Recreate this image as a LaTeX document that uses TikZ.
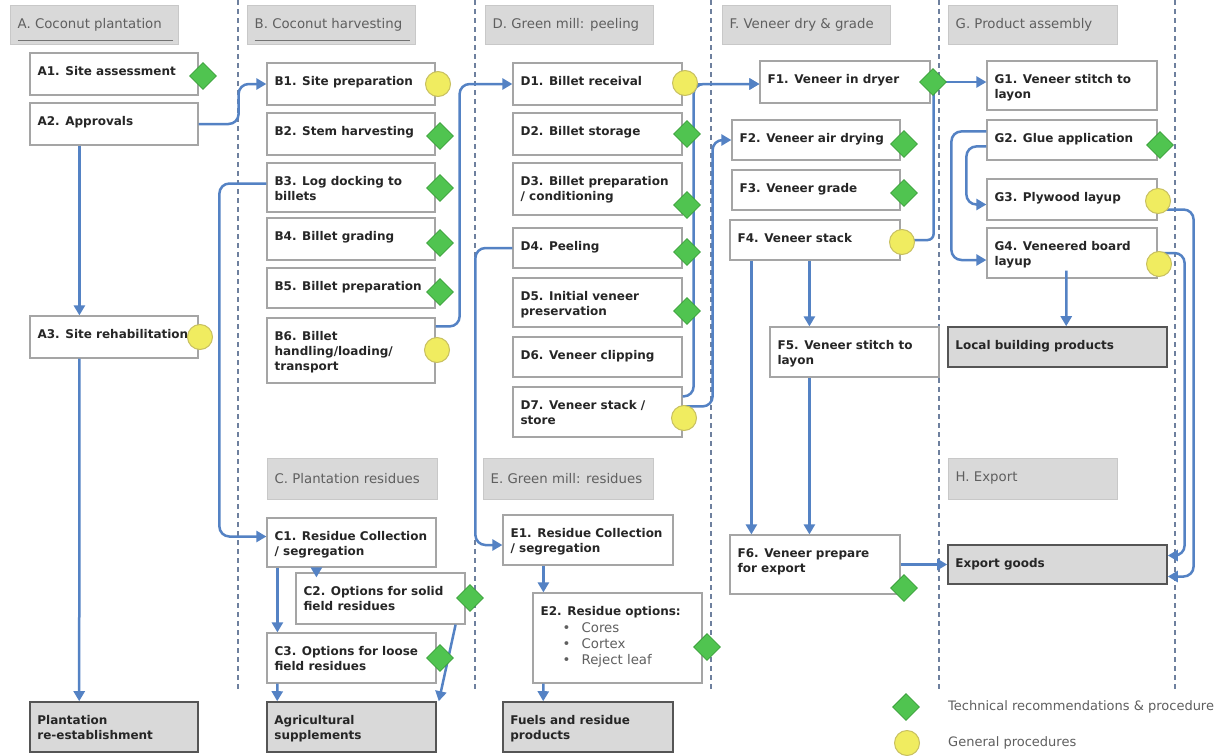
\documentclass[tikz,border=0pt]{standalone}
\usepackage{fontspec}
\setmainfont{DejaVu Sans}
\usetikzlibrary{arrows.meta,shapes.geometric}
\definecolor{lineblue}{RGB}{84,130,196}
\definecolor{laneblue}{RGB}{110,128,158}
\definecolor{boxgray}{RGB}{165,165,165}
\definecolor{fillgray}{RGB}{217,217,217}
\definecolor{hdrborder}{RGB}{200,200,200}
\definecolor{outgray}{RGB}{85,85,85}
\definecolor{txtdark}{RGB}{38,38,38}
\definecolor{hdrtxt}{RGB}{95,95,95}
\definecolor{greenfill}{RGB}{80,196,80}
\definecolor{greenline}{RGB}{58,160,58}
\definecolor{yellowfill}{RGB}{240,236,96}
\definecolor{yellowline}{RGB}{200,192,96}
\newcommand\pbx[7]{%
  \node[#2, minimum width={#5pt-#3pt}, minimum height={#6pt-#4pt}] (#1) at ({(#3+#5)/2},{(#4+#6)/2}) {};
  \node[ptext] (#1t) at ([xshift=8pt,yshift=-14pt]#1.north west) {#7};}
\newcommand\hbx[6]{%
  \node[hdrbox, minimum width={#4pt-#2pt}, minimum height={#5pt-#3pt}] (#1) at ({(#2+#4)/2},{(#3+#5)/2}) {};
  \node[htext] (#1t) at ([xshift=8pt]#1.west) {#6};}
\begin{document}
\begin{tikzpicture}[x=1pt,y=-1pt,
  pbox/.style={rectangle, draw=boxgray, line width=1.2pt, fill=white, inner sep=0pt},
  obox/.style={rectangle, draw=outgray, line width=1.6pt, fill=fillgray, inner sep=0pt},
  hdrbox/.style={rectangle, draw=hdrborder, line width=1pt, fill=fillgray, inner sep=0pt},
  ptext/.style={inner sep=0pt, anchor=north west, align=left, text=txtdark, font=\bfseries\fontsize{12}{15}\selectfont},
  htext/.style={inner sep=0pt, anchor=west, text=hdrtxt, font=\fontsize{13.3}{15}\selectfont},
  gdia/.style={diamond, draw=greenline, fill=greenfill, minimum size=27pt, inner sep=0pt, line width=0.8pt},
  ycirc/.style={circle, draw=yellowline, fill=yellowfill, minimum size=25pt, inner sep=0pt, line width=1pt},
  flow/.style={draw=lineblue, line width=2.5pt, rounded corners=10pt, -{Triangle[length=10pt,width=11pt]}},
  flowplain/.style={draw=lineblue, line width=2.5pt, rounded corners=6pt},
  lane/.style={draw=laneblue, line width=1.3pt, dash pattern=on 5pt off 4pt},
  hline/.style={draw=black!55, line width=1.2pt}]
\useasboundingbox (0,0) rectangle (1220,755);
\fill[white] (0,0) rectangle (1220,755);
% lanes
\foreach \lx in {238,475,711,939,1175} { \draw[lane] (\lx,0) -- (\lx,690); }
% headers
\hbx{Ah}{10}{5}{178}{44}{A. Coconut plantation}
\hbx{Bh}{247}{5}{415}{44}{B. Coconut harvesting}
\hbx{Dh}{485}{5}{653}{44}{D. Green mill: peeling}
\hbx{Fh}{722}{5}{890}{44}{F. Veneer dry \& grade}
\hbx{Gh}{948}{5}{1117}{44}{G. Product assembly}
\hbx{Ch}{267}{458}{437}{499}{C. Plantation residues}
\hbx{Eh}{483}{458}{653}{499}{E. Green mill: residues}
\hbx{Hh}{948}{458}{1117}{499}{H. Export}
\draw[hline] ([xshift=8pt,yshift=4pt]Ah.south west) -- ([xshift=-6pt,yshift=4pt]Ah.south east);
\draw[hline] ([xshift=8pt,yshift=4pt]Bh.south west) -- ([xshift=-6pt,yshift=4pt]Bh.south east);
% A column
\pbx{A1}{pbox}{30}{53}{198}{95}{A1. Site assessment}
\pbx{A2}{pbox}{30}{103}{198}{145}{A2. Approvals}
\pbx{A3}{pbox}{30}{316}{198}{358}{A3. Site rehabilitation}
\pbx{PR}{obox}{30}{702}{198}{752}{Plantation\\re-establishment}
% B column
\pbx{B1}{pbox}{267}{63}{435}{105}{B1. Site preparation}
\pbx{B2}{pbox}{267}{113}{435}{155}{B2. Stem harvesting}
\pbx{B3}{pbox}{267}{163}{435}{212}{B3. Log docking to\\billets}
\pbx{B4}{pbox}{267}{218}{435}{260}{B4. Billet grading}
\pbx{B5}{pbox}{267}{268}{435}{308}{B5. Billet preparation}
\pbx{B6}{pbox}{267}{318}{435}{383}{B6. Billet\\handling/loading/\\transport}
% C column
\pbx{C1}{pbox}{267}{518}{436}{567}{C1. Residue Collection\\/ segregation}
\pbx{C2}{pbox}{296}{573}{465}{624}{C2. Options for solid\\field residues}
\pbx{C3}{pbox}{267}{633}{436}{683}{C3. Options for loose\\field residues}
\pbx{AG}{obox}{267}{702}{436}{752}{Agricultural\\supplements}
% D column
\pbx{D1}{pbox}{513}{63}{682}{105}{D1. Billet receival}
\pbx{D2}{pbox}{513}{113}{682}{155}{D2. Billet storage}
\pbx{D3}{pbox}{513}{163}{682}{215}{D3. Billet preparation\\/ conditioning}
\pbx{D4}{pbox}{513}{228}{682}{268}{D4. Peeling}
\pbx{D5}{pbox}{513}{278}{682}{327}{D5. Initial veneer\\preservation}
\pbx{D6}{pbox}{513}{337}{682}{377}{D6. Veneer clipping}
\pbx{D7}{pbox}{513}{387}{682}{437}{D7. Veneer stack /\\store}
% E column
\pbx{E1}{pbox}{503}{515}{673}{565}{E1. Residue Collection\\/ segregation}
\pbx{E2}{pbox}{533}{593}{702}{683}{E2. Residue options:\\[2pt]
 {\mdseries\fontsize{13.3}{17}\selectfont\color{hdrtxt}\hspace*{22pt}\makebox[19pt][l]{\textbullet}Cores}\\[1pt]
 {\mdseries\fontsize{13.3}{17}\selectfont\color{hdrtxt}\hspace*{22pt}\makebox[19pt][l]{\textbullet}Cortex}\\[1pt]
 {\mdseries\fontsize{13.3}{17}\selectfont\color{hdrtxt}\hspace*{22pt}\makebox[19pt][l]{\textbullet}Reject leaf}}
\pbx{FU}{obox}{503}{702}{673}{752}{Fuels and residue\\products}
% F column
\pbx{F1}{pbox}{760}{61}{930}{103}{F1. Veneer in dryer}
\pbx{F2}{pbox}{732}{120}{900}{160}{F2. Veneer air drying}
\pbx{F3}{pbox}{732}{170}{900}{210}{F3. Veneer grade}
\pbx{F4}{pbox}{730}{220}{900}{260}{F4. Veneer stack}
\pbx{F5}{pbox}{770}{327}{939}{377}{F5. Veneer stitch to\\layon}
\pbx{F6}{pbox}{730}{535}{900}{594}{F6. Veneer prepare\\for export}
% G column
\pbx{G1}{pbox}{987}{61}{1157}{110}{G1. Veneer stitch to\\layon}
\pbx{G2}{pbox}{987}{120}{1157}{160}{G2. Glue application}
\pbx{G3}{pbox}{987}{179}{1157}{220}{G3. Plywood layup}
\pbx{G4}{pbox}{987}{228}{1157}{278}{G4. Veneered board\\layup}
\pbx{LB}{obox}{948}{327}{1167}{367}{Local building products}
\pbx{EX}{obox}{948}{545}{1167}{584}{Export goods}
% connectors
\draw[flow] (A2.east) -- ++(40,0) |- (B1.west);
\draw[flow] ([xshift=50pt]A2.south west) -- ([xshift=50pt]A3.north west);
\draw[flow] ([xshift=50pt]A3.south west) -- ([xshift=50pt]PR.north west);
\draw[flow] ([yshift=4pt]B3.west) -- ++(-47,0) |- ([yshift=6pt]C1.west);
\draw[flow] ([yshift=-9pt]B6.north east) -- ++(24,0) |- (D1.west);
\draw[flow] ([xshift=50pt]C1.south west) -- ([xshift=21pt,yshift=-5pt]C2.north west);
\draw[flow] ([xshift=11pt]C1.south west) -- ([xshift=11pt]C3.north west);
\draw[flow] ([xshift=11pt]C3.south west) -- ([xshift=11pt]AG.north west);
\draw[flow] ([xshift=-10pt]C2.south east) -- ([xshift=2pt]AG.north east);
\draw[flow] (D1.east) -- (D1.east -| F1.west);
\draw[flow] ([yshift=-10pt]D7.north east) -- ++(11,0) |- (D1.east -| F1.west);
\draw[flow] ([yshift=-20pt]D7.north east) -- ++(30,0) |- (F2.west);
\draw[flow] (D4.west) -- ++(-37,0) |- ([yshift=-5pt]E1.west);
\draw[flow] ([xshift=41pt]E1.south west) -- ([xshift=11pt]E2.north west);
\draw[flow] ([xshift=11pt]E2.south west) -- ([xshift=41pt]FU.north west);
\draw[flow] (F1.east) -- (F1.east -| G1.west);
\draw[flowplain] (F4.east) -| ([xshift=3pt]F1.east);
\draw[flow] ([xshift=80pt]F4.south west) -- ([xshift=40pt]F5.north west);
\draw[flow] ([xshift=22pt]F4.south west) -- ([xshift=22pt]F6.north west);
\draw[flow] ([xshift=40pt]F5.south west) -- ([xshift=80pt]F6.north west);
\draw[flow] (F6.east) -- (F6.east -| EX.west);
\draw[flow] ([yshift=-27pt]G2.north west) -- ++(-20,0) |- ([yshift=-5pt]G3.west);
\draw[flow] ([yshift=-12pt]G2.north west) -- ++(-35,0) |- ([yshift=-7pt]G4.west);
\draw[flow] ([xshift=80pt,yshift=8pt]G4.south west) -- ([xshift=119pt]LB.north west);
\draw[flow] ([yshift=-10pt]G3.east) -- ++(36,0) |- ([yshift=-12pt]EX.east);
\draw[flow] (G4.east) -- ++(27,0) |- ([yshift=9pt]EX.east);
% markers
\node[gdia] (A1m) at (203,76) {};
\node[ycirc] (A3m) at (200,337) {};
\node[ycirc] (B1m) at (438,84) {};
\node[gdia] (B2m) at (440,136) {};
\node[gdia] (B3m) at (440,188) {};
\node[gdia] (B4m) at (440,243) {};
\node[gdia] (B5m) at (440,292) {};
\node[ycirc] (B6m) at (437,350) {};
\node[gdia] (C2m) at (470,598) {};
\node[gdia] (C3m) at (440,658) {};
\node[ycirc] (D1m) at (685,83) {};
\node[gdia] (D2m) at (687,134) {};
\node[gdia] (D3m) at (687,205) {};
\node[gdia] (D4m) at (687,252) {};
\node[gdia] (D5m) at (687,311) {};
\node[ycirc] (D7m) at (684,418) {};
\node[gdia] (E2m) at (707,647) {};
\node[gdia] (F1m) at (933,82) {};
\node[gdia] (F2m) at (904,144) {};
\node[gdia] (F3m) at (904,193) {};
\node[ycirc] (F4m) at (902,242) {};
\node[gdia] (F6m) at (904,588) {};
\node[gdia] (G2m) at (1160,145) {};
\node[ycirc] (G3m) at (1158,201) {};
\node[ycirc] (G4m) at (1159,264) {};
% legend
\node[gdia] (Lg) at (906,707) {};
\node[htext, font=\fontsize{13}{15}\selectfont] (Lgt) at (948,707) {Technical recommendations \& procedure};
\node[ycirc] (Ly) at (907,743) {};
\node[htext, font=\fontsize{13}{15}\selectfont] (Lyt) at (948,743) {General procedures};
\end{tikzpicture}
\end{document}
